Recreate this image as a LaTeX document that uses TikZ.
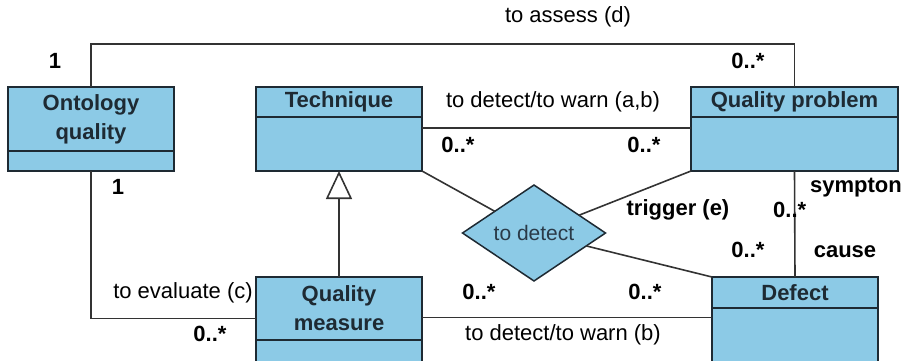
\documentclass[tikz,border=0pt]{standalone}
\usepackage{fontspec}
\setmainfont{Liberation Sans}
\usetikzlibrary{arrows.meta,positioning,shapes.geometric}
\definecolor{umlfill}{HTML}{8CCAE6}
\definecolor{umledge}{HTML}{1E2A33}
\definecolor{umlline}{HTML}{333333}
\definecolor{umltext}{HTML}{2A3A48}

\begin{document}
\begin{tikzpicture}[
    x=1pt, y=-1pt,
    classhead/.style={rectangle, draw=umledge, fill=umlfill, line width=1.8pt, inner sep=0pt, outer sep=0pt, align=center, minimum width=166pt, font=\fontsize{22}{29}\selectfont\bfseries, text=umledge},
    classbody/.style={rectangle, draw=umledge, fill=umlfill, line width=1.8pt, inner sep=0pt, outer sep=0pt, minimum width=166pt},
    assoc/.style={diamond, draw=umledge, fill=umlfill, line width=1.5pt, inner sep=0pt, outer sep=0pt, minimum width=143pt, minimum height=82pt, font=\fontsize{21}{25}\selectfont, text=umltext},
    link/.style={draw=umlline, line width=1.6pt},
    role/.style={font=\fontsize{22}{26}\selectfont},
    mult/.style={font=\fontsize{22}{26}\selectfont\bfseries}
  ]
    \useasboundingbox (0,0) rectangle (903,360);
    \clip (0,0) rectangle (903,360);

    \node[classhead, minimum height=64pt, anchor=north west] (onto) at (8,87) {Ontology\\quality};
    \node[classbody, minimum height=20pt, below=0pt of onto] (onto-b) {};
    \node[classhead, minimum height=30pt, anchor=north west] (tech) at (256,87) {Technique};
    \node[classbody, minimum height=54pt, below=0pt of tech] (tech-b) {};
    \node[classhead, minimum height=30pt, minimum width=207pt, anchor=north west] (qp) at (691,87) {Quality problem};
    \node[classbody, minimum height=54pt, minimum width=207pt, below=0pt of qp] (qp-b) {};
    \node[classhead, minimum height=63pt, anchor=north west] (qm) at (256,277) {Quality\\measure};
    \node[classbody, minimum height=40pt, below=0pt of qm] (qm-b) {};
    \node[classhead, minimum height=31pt, anchor=north west] (def) at (712,277) {Defect};
    \node[classbody, minimum height=60pt, below=0pt of def] (def-b) {};
    \node[assoc] (detect) at (534,233) {to detect};

    \coordinate (assess-top) at (91,44);
    \coordinate (warnab-a) at ([yshift=16pt]tech-b.east);
    \coordinate (eval-a) at ([yshift=-10pt]qm.west);
    \coordinate (warnb-a) at ([yshift=-9pt]qm.east);

    \draw[link] (onto.north) -- (assess-top) -| (qp.north);
    \draw[link] (warnab-a) -- (warnab-a -| qp-b.west);
    \draw[link] (onto-b.south) |- (eval-a);
    \draw[link] (warnb-a) -- (warnb-a -| def.west);
    \draw[link] (qp-b.south) -- (def.north);
    \draw[link] (tech-b.south east) -- (detect);
    \draw[link] (qp-b.south west) -- (detect);
    \draw[link] (detect) -- (def.north west);
    \draw[link, -{Triangle[open, length=28pt, width=26pt]}] (qm.north) -- (tech-b.south);

    \node[role] (assess-l) at (568,17) {to assess (d)};
    \node[mult] (assess-m1) at (55,61) {1};
    \node[mult] (assess-m2) at (748,61) {0..*};
    \node[role] (warnab-l) at (553,102) {to detect/to warn (a,b)};
    \node[mult] (warnab-m1) at (458,145) {0..*};
    \node[mult] (warnab-m2) at (644,145) {0..*};
    \node[mult] (eval-m1) at (118,187) {1};
    \node[role] (eval-l) at (183,293) {to evaluate (c)};
    \node[mult] (eval-m2) at (210,334) {0..*};
    \node[mult] (warnb-m1) at (479,292) {0..*};
    \node[mult] (warnb-m2) at (645,292) {0..*};
    \node[role] (warnb-l) at (563,335) {to detect/to warn (b)};
    \node[mult] (trig-l) at (678,210) {trigger (e)};
    \node[mult, anchor=west, inner sep=0pt] (symp-m) at (773,210) {0..*};
    \node[mult] (symp-l) at (856,188) {sympton};
    \node[mult] (cause-m) at (748,250) {0..*};
    \node[mult] (cause-l) at (845,252) {cause};
  \end{tikzpicture}
\end{document}
